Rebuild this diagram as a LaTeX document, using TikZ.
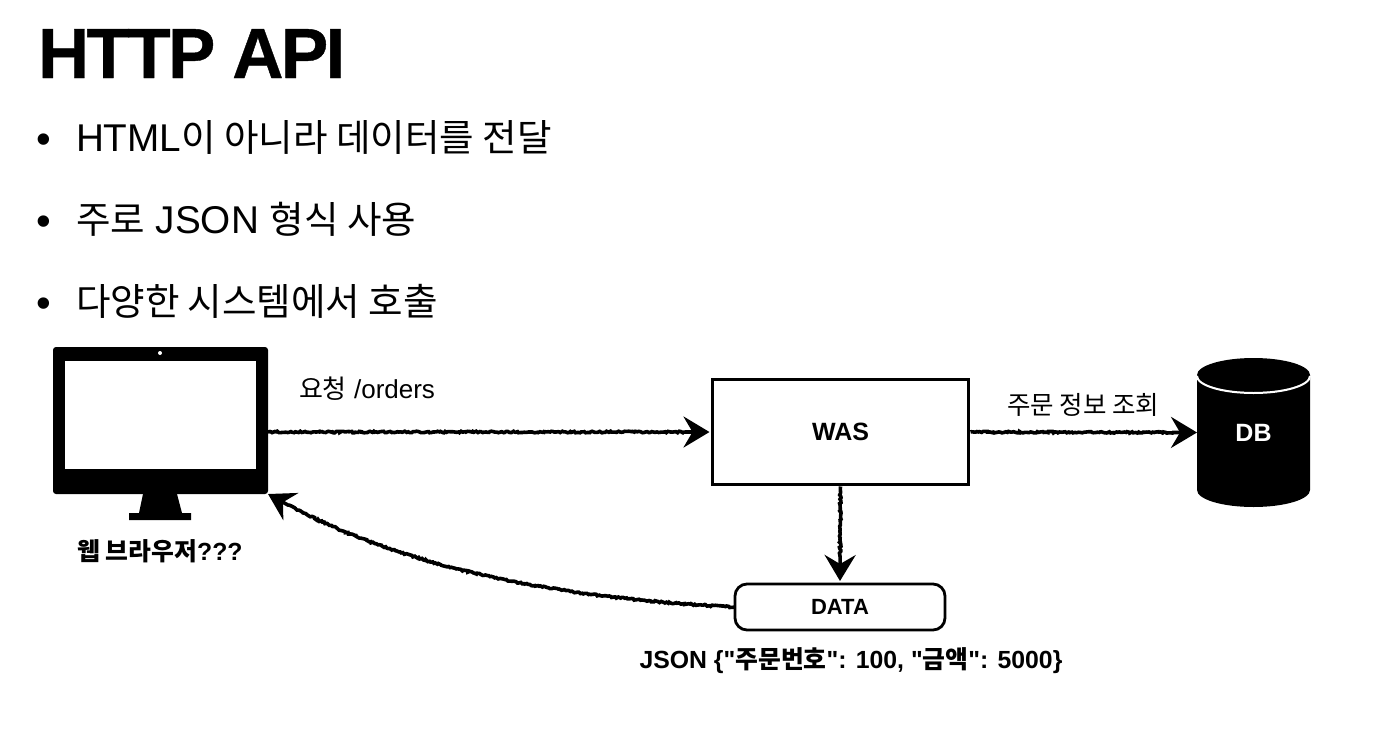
\documentclass[tikz,border=0pt]{standalone}
\usepackage{fontspec}
\usetikzlibrary{arrows.meta,decorations.pathmorphing,calc}
\setmainfont{Liberation Sans}
\newfontfamily\plainfont{Liberation Sans}
\newfontfamily\krfont{Noto Sans CJK KR}
\newfontfamily\titlefont[LetterSpace=-3.8,FakeBold=0.6]{Liberation Sans Bold}
\newcommand{\kr}[1]{{\krfont #1}}
\newcommand{\krb}[1]{{\krfont\fontsize{37.5pt}{38pt}\selectfont #1}}
\newcommand{\fsz}[1]{\fontsize{#1pt}{#1pt}\selectfont}
\tikzset{
  txt/.style={inner sep=0pt,outer sep=0pt,text=black},
  heading/.style={txt,anchor=base west,font=\titlefont\fsz{71}},
  bullet/.style={txt,anchor=base,font=\fsz{42}},
  bullettext/.style={txt,anchor=base west,font=\fsz{38.7}},
  difflabel/.style={txt,anchor=base west,font=\fsz{26}},
  boldlabel/.style={txt,anchor=base,font=\plainfont\bfseries\fsz{24.8}},
  boxlabel/.style={inner sep=0pt,outer sep=0pt,font=\bfseries\fsz{25}},
  wasbox/.style={boxlabel,draw=black,line width=3.4pt,fill=white,minimum width=256pt,minimum height=105pt},
  databox/.style={boxlabel,font=\bfseries\fsz{22},draw=black,line width=2.8pt,fill=white,rounded corners=12pt,minimum width=210pt,minimum height=46pt},
  blackarea/.style={inner sep=0pt,outer sep=0pt,fill=black},
  sketch/.style={line width=3.6pt,draw=black,
    -{Stealth[length=26pt,width=31pt,inset=9pt]},
    decorate,decoration={random steps,segment length=1.6pt,amplitude=.8pt,post length=24pt}},
}
\begin{document}
\begin{tikzpicture}[x=1pt,y=-1pt]
\useasboundingbox (0,0) rectangle (1398,734);
% title and bullets
\node[heading] (title) at (38,78) {HTTP API};
\node[bullet] (b1) at (44,153.5) {•};
\node[bullettext] (t1) at (76,151) {HTML\krb{이 아니라 데이터를 전달}};
\node[bullet] (b2) at (44,235.5) {•};
\node[bullettext] (t2) at (76,233) {\krb{주로} JSON \krb{형식 사용}};
\node[bullet] (b3) at (44,317.5) {•};
\node[bullettext] (t3) at (76,315) {\krb{다양한 시스템에서 호출}};
% monitor
\node[blackarea,rounded corners=3pt,minimum width=215pt,minimum height=147pt] (monitor) at (160.5,420.5) {};
\fill[white] (65,361) rectangle (256,469);
\fill[white] (160,353) circle (2pt);
\fill[black] (143,494) -- (177,494) -- (182,513) -- (191,513) -- (191,520) -- (129,520) -- (129,513) -- (139,513) -- cycle;
\node[boldlabel] (browser) at (160,560) {\kr{웹 브라우저}???};
% WAS, DATA
\node[wasbox] (was) at (840.5,432) {WAS};
\node[databox] (data) at (840,607) {DATA};
\node[boldlabel] (json) at (851,668) {JSON \{"\kr{주문번호}": 100, "\kr{금액}": 5000\}};
% DB
\fill[black] (1197,375) arc[x radius=56.5pt,y radius=17pt,start angle=180,end angle=360] -- (1310,490)
  arc[x radius=56.5pt,y radius=17pt,start angle=0,end angle=-180] -- cycle;
\fill[black] (1253.5,375) ellipse[x radius=56.5pt,y radius=17pt];
\draw[white,line width=2pt] (1197,376) arc[x radius=56.5pt,y radius=17pt,start angle=180,end angle=360];
\node[boxlabel,text=white,minimum width=113pt,minimum height=149pt] (db) at (1253.5,432.5) {DB};
% labels
\node[difflabel] (req) at (299,398) {\kr{요청} /orders};
\node[difflabel] (query) at (1007,414) {\kr{\fsz{25.5}주문 정보 조회}};
% connectors
\coordinate (monout) at (monitor.east |- was.west);
\coordinate (monin) at (monitor.south east);
\draw[sketch] (monout) -- ($(was.west)+(-3,0)$);
\draw[sketch] ($(was.east)+(2,0)$) -- (db.west);
\draw[sketch] ($(was.south)+(0,2)$) -- ($(data.north)+(0,-3)$);
\draw[sketch] (data.west) .. controls (560,598) and (400,570) .. (monin);
\end{tikzpicture}
\end{document}
